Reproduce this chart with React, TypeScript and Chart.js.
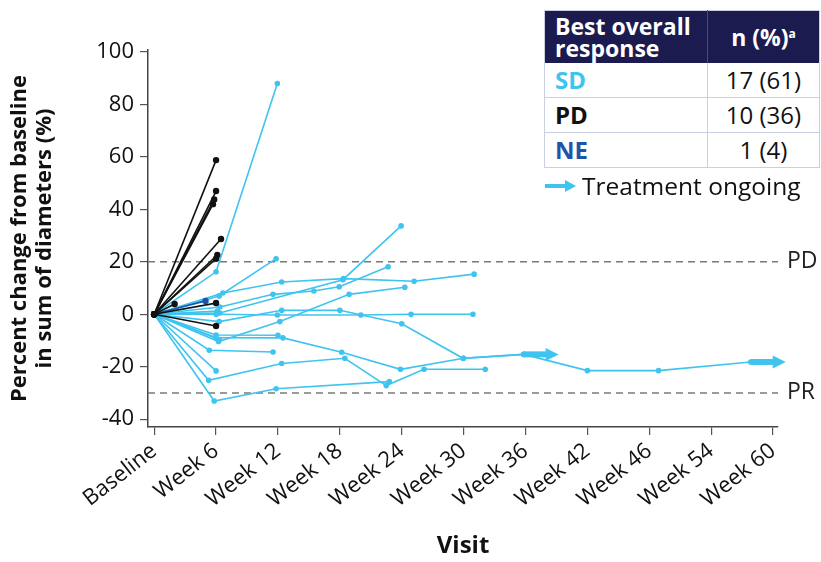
import React, { useEffect, useRef } from 'react';
import { Chart, registerables } from 'chart.js';

Chart.register(...registerables);

// ---------- data ----------
const visitLabels = ['Baseline', 'Week 6', 'Week 12', 'Week 18', 'Week 24', 'Week 30', 'Week 36', 'Week 42', 'Week 46', 'Week 54', 'Week 60'];
const yTickValues = [-40, -20, 0, 20, 40, 60, 80, 100];
const refLineValues = [20, -30];
const refLineLabels = ['PD', 'PR'];

const responseCategories = ['SD', 'PD', 'NE'];
const responseCounts = ['17 (61)', '10 (36)', '1 (4)'];

// each patient: [visit position, % change]
const pd01 = [[0, 0], [1.0, 58.8]];
const pd02 = [[0, 0], [1.0, 47.0]];
const pd03 = [[0, 0], [0.97, 43.8]];
const pd04 = [[0, 0], [0.95, 42.0]];
const pd05 = [[0, 0], [1.08, 28.7]];
const pd06 = [[0, 0], [1.02, 22.6]];
const pd07 = [[0, 0], [1.0, 21.2]];
const pd08 = [[0, 0], [0.33, 3.9]];
const pd09 = [[0, 0], [1.0, 4.3]];
const pd10 = [[0, 0], [1.0, -4.5]];

const ne01 = [[0, 0], [0.83, 5.1]];

const sd01 = [[0, 0], [1.0, 16.2], [1.99, 88]];
const sd02 = [[0, 0], [1.05, 7.0], [1.97, 21.2]];
const sd03 = [[0, 0], [1.11, 8.1], [2.06, 12.3], [3.06, 13.6], [4.2, 12.6], [5.17, 15.3]];
const sd04 = [[0, 0], [1.06, 2.8], [1.92, 7.6], [2.58, 8.9], [2.99, 10.5], [3.78, 18.1]];
const sd05 = [[0, 0], [1.06, 0.5], [3.05, 13.2], [3.99, 33.7]];
const sd06 = [[0, 0], [1.04, -10.4], [2.03, -2.8], [3.15, 7.6], [4.05, 10.3]];
const sd07 = [[0, 0], [1.0, 0], [1.99, -0.3], [3.34, -0.3], [4.15, 0], [5.15, 0]];
const sd08 = [[0, 0], [1.05, -2.8], [2.06, 1.5], [3.0, 1.5], [4.0, -3.6], [4.99, -16.8], [5.97, -15.3], [7.0, -21.5], [8.15, -21.5], [9.64, -18.2]];
const sd09 = [[0, 0], [1.0, -8.9], [2.08, -9.0], [3.03, -14.5], [3.98, -21.0], [5.0, -16.8], [5.97, -15.3]];
const sd10 = [[0, 0], [0.88, -25.2], [2.06, -18.8], [3.08, -16.8], [3.75, -27.2], [4.36, -21.0], [5.35, -21.0]];
const sd11 = [[0, 0], [0.97, -33.1], [1.97, -28.4], [3.8, -25.7]];
const sd12 = [[0, 0], [0.89, -13.7], [1.92, -14.4]];
const sd13 = [[0, 0], [1.0, -21.6]];
const sd14 = [[0, 0], [1.0, -7.9], [2.0, -8.0]];
const sd15 = [[0, 0], [1.0, 4.1]];
const sd16 = [[0, 0], [1.05, -9.6]];
const sd17 = [[0, 0], [1.02, 1.2]];

const pdPatients = [pd01, pd02, pd03, pd04, pd05, pd06, pd07, pd08, pd09, pd10];
const nePatients = [ne01];
const sdPatients = [sd01, sd02, sd03, sd04, sd05, sd06, sd07, sd08, sd09, sd10, sd11, sd12, sd13, sd14, sd15, sd16, sd17];
const ongoingPatients = [sd08, sd09];

// ---------- styles ----------
const FONT = '"Open Sans", Lato, "DejaVu Sans", sans-serif';
const CYAN = '#3fc4ef';
const BLACK = '#111111';
const NAVY_BLUE = '#1f55a8';

const toPoints = (p: number[][]) => p.map(([x, y]) => ({ x, y }));

const refLinesPlugin = {
  id: 'refLines',
  beforeDatasetsDraw(chart: any) {
    const { ctx, chartArea, scales } = chart;
    refLineValues.forEach((v, k) => {
      const py = scales.y.getPixelForValue(v);
      ctx.save();
      ctx.strokeStyle = '#7a7a7a';
      ctx.lineWidth = 1.5;
      ctx.setLineDash([7, 5]);
      ctx.beginPath();
      ctx.moveTo(chartArea.left, py);
      ctx.lineTo(chartArea.right, py);
      ctx.stroke();
      ctx.setLineDash([]);
      ctx.fillStyle = '#222';
      ctx.font = `23px ${FONT}`;
      ctx.textBaseline = 'middle';
      ctx.textAlign = 'left';
      ctx.fillText(refLineLabels[k], chartArea.right + 9, py);
      ctx.restore();
    });
  },
};

const arrowsPlugin = {
  id: 'ongoingArrows',
  afterDatasetsDraw(chart: any) {
    const ctx = chart.ctx;
    chart.data.datasets.forEach((ds: any, i: number) => {
      if (!ds.ongoing) return;
      const meta = chart.getDatasetMeta(i);
      const last = meta.data[meta.data.length - 1];
      const x = last.x;
      const y = last.y;
      ctx.save();
      ctx.fillStyle = CYAN;
      ctx.fillRect(x, y - 3, 24, 6);
      ctx.beginPath();
      ctx.moveTo(x + 22, y - 6.5);
      ctx.lineTo(x + 35, y);
      ctx.lineTo(x + 22, y + 6.5);
      ctx.closePath();
      ctx.fill();
      ctx.restore();
    });
  },
};

export default function App() {
  const canvasRef = useRef<HTMLCanvasElement>(null);

  useEffect(() => {
    if (!canvasRef.current) return;
    const mk = (p: number[][], color: string, r: number, extra: any = {}) => ({
      data: toPoints(p),
      borderColor: color,
      backgroundColor: color,
      borderWidth: 1.6,
      pointRadius: r,
      pointBorderWidth: 0,
      pointBackgroundColor: color,
      tension: 0,
      ...extra,
    });
    const datasets: any[] = [
      ...pdPatients.map((p) => mk(p, BLACK, 3.2)),
      ...nePatients.map((p) => mk(p, NAVY_BLUE, 3.2)),
      ...sdPatients.map((p) => mk(p, CYAN, 2.8, { ongoing: ongoingPatients.includes(p) })),
    ];

    const chart = new Chart(canvasRef.current, {
      type: 'line',
      data: { datasets },
      plugins: [refLinesPlugin, arrowsPlugin],
      options: {
        animation: false,
        responsive: false,
        events: [],
        layout: { padding: { top: 50, right: 43, left: 0, bottom: 0 } },
        plugins: { legend: { display: false }, tooltip: { enabled: false } },
        scales: {
          x: {
            type: 'linear',
            min: -0.1,
            max: 10.08,
            afterFit: (s: any) => { s.height = 135; },
            afterBuildTicks: (s: any) => { s.ticks = visitLabels.map((_, i) => ({ value: i })); },
            ticks: {
              callback: (v: any) => visitLabels[Math.round(Number(v))] ?? '',
              minRotation: 38,
              maxRotation: 38,
              autoSkip: false,
              color: '#111',
              font: { size: 22, family: FONT },
              padding: 3,
            },
            grid: { drawOnChartArea: false, drawTicks: true, tickLength: 8, color: '#555', lineWidth: 1.2 },
            border: { color: '#444', width: 1.5 },
            title: {
              display: true,
              text: 'Visit',
              color: '#111',
              font: { size: 24, weight: 'bold', family: FONT },
              padding: { top: 0, bottom: 1 },
            },
          },
          y: {
            type: 'linear',
            min: -43,
            max: 100.8,
            afterFit: (s: any) => { s.width = 148; },
            afterBuildTicks: (s: any) => { s.ticks = yTickValues.map((v) => ({ value: v })); },
            ticks: { color: '#111', font: { size: 22, family: FONT }, padding: 6 },
            grid: { drawOnChartArea: false, drawTicks: true, tickLength: 8, color: '#555', lineWidth: 1.2 },
            border: { color: '#444', width: 1.5 },
            title: {
              display: true,
              text: ['Percent change from baseline', 'in sum of diameters (%)'],
              color: '#111',
              font: { size: 22, weight: 'bold', family: FONT, lineHeight: '25px' },
              padding: { top: 7, bottom: 0 },
            },
          },
        },
      } as any,
    });
    return () => chart.destroy();
  }, []);

  const cell: React.CSSProperties = { borderBottom: '1px solid #c9d0e2', height: 34, padding: 0 };

  return (
    <div style={{ position: 'absolute', left: 0, top: 0, width: 821, height: 562, background: '#fff', fontFamily: FONT }}>
      <canvas ref={canvasRef} width={821} height={562} />
      <table
        style={{
          position: 'absolute',
          left: 544,
          top: 10,
          width: 275,
          borderCollapse: 'collapse',
          tableLayout: 'fixed',
          fontFamily: FONT,
          background: '#fff',
          border: '1px solid #c9d0e2',
        }}
      >
        <colgroup>
          <col style={{ width: 163 }} />
          <col style={{ width: 112 }} />
        </colgroup>
        <thead>
          <tr style={{ background: '#1c1b4f', color: '#fff', height: 52 }}>
            <th style={{ textAlign: 'left', padding: '0 0 0 10px', fontSize: 23, lineHeight: '22px', fontWeight: 700, borderRight: '1px solid #4a4a7a' }}>
              Best overall
              <br />
              response
            </th>
            <th style={{ fontSize: 23, fontWeight: 700, padding: 0 }}>
              n (%)<sup style={{ fontSize: 12, verticalAlign: '8px' }}>a</sup>
            </th>
          </tr>
        </thead>
        <tbody>
          {responseCategories.map((c, i) => (
            <tr key={c}>
              <td style={{ ...cell, paddingLeft: 10, fontWeight: 700, fontSize: 24, color: [CYAN, BLACK, NAVY_BLUE][i], borderRight: '1px solid #c9d0e2' }}>{c}</td>
              <td style={{ ...cell, textAlign: 'center', fontSize: 24, color: '#111' }}>{responseCounts[i]}</td>
            </tr>
          ))}
        </tbody>
      </table>
      <div style={{ position: 'absolute', left: 545, top: 169, display: 'flex', alignItems: 'center', fontSize: 24.5, color: '#111' }}>
        <svg width="32" height="14" style={{ marginRight: 5 }}>
          <rect x="0" y="5" width="22" height="4" fill={CYAN} />
          <polygon points="20,1 31,7 20,13" fill={CYAN} />
        </svg>
        <span>Treatment ongoing</span>
      </div>
    </div>
  );
}
